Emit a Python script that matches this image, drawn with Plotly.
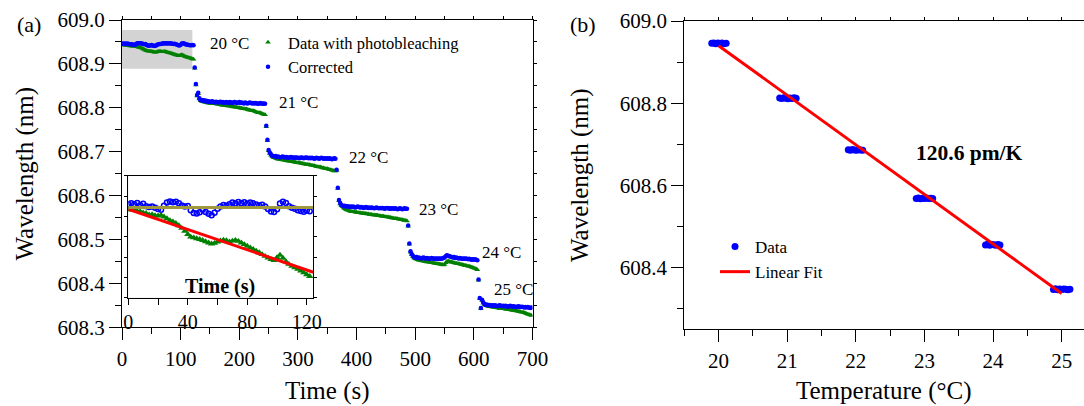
import plotly.graph_objects as go

W, H = 1084, 406
FONT = "Liberation Serif"

# ---------------- Panel (a): wavelength vs time ----------------
# sampling times (s), one sample every 2 s
time_s = list(range(0, 700, 2))

# Values are in pm above 608 nm  (e.g. 945 -> 608.945 nm)
corr_20 = [946.0, 946.4, 945.8, 946.6, 945.5, 946.2, 945.0, 944.6, 944.9, 944.2,
           943.6, 943.3, 945.2, 946.8, 947.3, 946.9, 947.2, 946.5, 945.4, 944.8,
           945.1, 943.0, 941.7, 941.4, 942.0, 943.2, 942.1, 941.3, 940.6, 941.8,
           943.7, 944.8, 945.6, 945.2, 946.0, 946.8, 946.3, 947.1, 946.5, 947.0,
           946.2, 946.8, 946.4, 945.8, 945.3, 945.7, 944.9, 943.6, 942.4, 942.1,
           943.5, 946.3, 947.2, 946.6, 945.0, 944.2, 943.8, 943.0, 942.7, 942.3,
           942.9, 942.5]
corr_j1 = [892, 854, 829, 834, 822, 817]
corr_21 = [818, 816, 817, 815, 816, 814, 815, 813, 814, 815, 813, 812, 814, 813,
           812, 813, 814, 812, 813, 811, 812, 813, 812, 811, 813, 812, 811, 812,
           813, 812, 811, 812, 813, 811, 812, 811, 810, 812, 811, 810, 811, 812,
           811, 810, 811, 810, 811, 810, 809, 810, 811, 810, 809, 810, 809]
corr_j2 = [759, 727, 704, 698, 694]
corr_22 = [691, 690, 689, 690, 688, 689, 688, 687, 688, 689, 688, 687, 688, 687,
           686, 687, 688, 687, 686, 687, 686, 687, 686, 685, 686, 687, 686, 685,
           686, 687, 686, 685, 686, 685, 686, 685, 684, 685, 686, 685, 684, 685,
           686, 685, 684, 685, 684, 685, 684, 685, 684, 683, 684, 685, 684]
corr_j3 = [659, 618, 590, 583, 579]
corr_23 = [577, 576, 577, 575, 576, 575, 574, 575, 574, 575, 574, 573, 574, 575,
           574, 573, 574, 573, 572, 573, 574, 573, 572, 573, 572, 573, 572, 571,
           572, 573, 572, 571, 572, 571, 572, 571, 570, 571, 572, 571, 570, 571,
           570, 571, 570, 571, 570, 569, 570, 571, 570, 569, 570, 571, 570, 570]
corr_j4 = [532, 491, 473, 467, 463]
corr_24 = [460, 459, 460, 458, 459, 458, 457, 458, 459, 458, 457, 458, 457, 456,
           457, 458, 457, 456, 457, 456, 457, 456, 457, 456, 457, 458, 459, 462,
           464, 463, 462, 461, 460, 459, 460, 458, 459, 458, 457, 458, 457, 456,
           457, 456, 457, 456, 455, 456, 455, 454, 455, 454, 455, 454, 453]
corr_j5 = [409, 367, 344, 363, 357]
corr_25 = [353, 351, 352, 350, 351, 350, 349, 350, 349, 350, 349, 348, 349, 350,
           349, 348, 349, 348, 349, 348, 347, 348, 349, 348, 347, 348, 347, 346,
           347, 348, 347, 346, 347, 346, 345, 346, 345, 346, 345, 344, 345]

bleach_20 = [943.5, 943.2, 943.0, 942.6, 942.4, 941.8, 941.5, 940.8, 940.9, 940.4,
             940.3, 940.6, 939.8, 938.9, 938.0, 937.4, 936.6, 935.5, 934.2, 932.8,
             931.2, 929.9, 929.5, 929.1, 928.7, 928.2, 927.6, 927.0, 926.5, 926.8,
             927.4, 928.0, 928.4, 928.1, 927.5, 927.9, 928.3, 927.8, 927.0, 926.2,
             925.4, 924.6, 923.8, 923.0, 922.2, 921.3, 920.4, 919.6, 918.8, 918.3,
             919.8, 921.0, 919.5, 917.8, 916.5, 915.5, 914.8, 914.0, 913.2, 912.3,
             911.4, 910.5]
bleach_j1 = [890, 852, 827, 832, 820, 816]
bleach_21 = [815, 814, 813, 812, 812, 811, 811, 810, 810, 810, 809, 809, 809, 808,
             808, 807, 807, 806, 806, 806, 805, 805, 804, 804, 804, 803, 803, 802,
             802, 801, 801, 800, 800, 799, 799, 798, 798, 797, 797, 796, 795, 795,
             794, 793, 793, 792, 791, 790, 789, 789, 788, 787, 786, 785, 784]
bleach_j2 = [757, 725, 702, 696, 692]
bleach_22 = [689, 687, 686, 685, 684, 683, 683, 682, 682, 681, 681, 680, 680, 679,
             679, 678, 678, 677, 677, 676, 676, 675, 675, 674, 674, 673, 673, 672,
             672, 671, 671, 670, 670, 669, 669, 668, 668, 667, 666, 666, 665, 665,
             664, 663, 663, 662, 661, 661, 660, 659, 659, 658, 657, 656, 656]
bleach_j3 = [657, 616, 588, 581, 577]
bleach_23 = [575, 572, 570, 568, 567, 566, 565, 564, 564, 563, 563, 562, 562, 561,
             561, 561, 560, 560, 559, 559, 559, 558, 558, 557, 557, 557, 556, 556,
             555, 555, 555, 554, 554, 553, 553, 553, 552, 552, 551, 551, 550, 550,
             549, 549, 548, 548, 547, 547, 546, 546, 545, 545, 544, 543, 543, 542]
bleach_j4 = [530, 489, 471, 465, 461]
bleach_24 = [458, 456, 455, 454, 453, 452, 452, 451, 451, 450, 450, 449, 449, 448,
             448, 447, 447, 446, 446, 445, 445, 444, 444, 443, 443, 442, 443, 447,
             450, 451, 450, 449, 448, 448, 447, 446, 446, 445, 445, 444, 443, 443,
             442, 441, 441, 440, 439, 439, 438, 437, 436, 435, 434, 433, 431]
bleach_j5 = [407, 365, 342, 361, 355]
bleach_25 = [352, 350, 349, 348, 347, 347, 346, 346, 345, 345, 345, 344, 344, 343,
             343, 343, 342, 342, 341, 341, 341, 340, 340, 339, 339, 338, 338, 337,
             337, 336, 336, 335, 334, 334, 333, 332, 331, 330, 329, 328, 327]

corrected_pm = (corr_20 + corr_j1 + corr_21 + corr_j2 + corr_22 + corr_j3 +
                corr_23 + corr_j4 + corr_24 + corr_j5 + corr_25)
bleached_pm = (bleach_20 + bleach_j1 + bleach_21 + bleach_j2 + bleach_22 + bleach_j3 +
               bleach_23 + bleach_j4 + bleach_24 + bleach_j5 + bleach_25)
corrected_nm = [608 + v / 1000 for v in corrected_pm]
bleached_nm = [608 + v / 1000 for v in bleached_pm]

# step labels (temperature, time and wavelength where the label sits)
step_labels = ["20 °C", "21 °C", "22 °C", "23 °C", "24 °C", "25 °C"]
step_label_t = [146, 264, 384, 503, 611, 631]
step_label_wl = [608.947, 608.812, 608.686, 608.568, 608.470, 608.386]

# inset: first plateau, with two straight guide lines
inset_n = len(corr_20)
inset_line_t = [0, 124.4]
inset_bleach_fit = [608.9435, 608.9125]
inset_corr_fit = [608.9443, 608.9443]

# ---------------- Panel (b): wavelength vs temperature ----------------
temp_C = [19.90, 19.93, 19.96, 19.99, 20.02, 20.05, 20.08, 20.11,
          20.89, 20.92, 20.95, 20.98, 21.01, 21.04, 21.07, 21.10, 21.13,
          21.89, 21.92, 21.95, 21.98, 22.01, 22.04, 22.07, 22.10,
          22.88, 22.91, 22.94, 22.97, 23.00, 23.03, 23.06, 23.09, 23.12,
          23.89, 23.92, 23.95, 23.98, 24.01, 24.04, 24.07, 24.10,
          24.88, 24.91, 24.94, 24.97, 25.00, 25.03, 25.06, 25.09, 25.12]
temp_wl_pm = [945.8, 946.6, 944.9, 946.2, 945.3, 946.7, 944.8, 945.9,
              812.6, 811.2, 813.4, 812.0, 810.9, 812.8, 811.5, 813.1, 811.9,
              686.8, 685.7, 687.5, 686.2, 685.4, 687.0, 686.1, 685.6,
              568.3, 569.6, 567.8, 569.0, 568.2, 569.4, 567.9, 568.8, 568.1,
              455.2, 456.8, 454.7, 456.0, 455.5, 454.6, 456.3, 455.1,
              347.0, 348.6, 346.5, 347.9, 346.8, 348.2, 347.4, 346.2, 347.6]
temp_wl = [608 + v / 1000 for v in temp_wl_pm]
fit_T = [20, 25]
fit_wl = [608.940, 608.337]
slope_text = "120.6 pm/K"

# ---------------- helpers ----------------
def px_x(p):
    return p / W

def px_y(p):
    return 1 - p / H

BLUE = "#0000ff"
GREEN = "#008000"
RED = "#ff0000"
OLIVE = "#a0983c"
GRAY = "#d3d3d3"

fig = go.Figure()

# main panel (a)
fig.add_trace(go.Scatter(x=time_s, y=bleached_nm, mode="markers", name="Data with photobleaching",
                         marker=dict(symbol="triangle-up", size=5, color=GREEN),
                         xaxis="x", yaxis="y", legend="legend"))
fig.add_trace(go.Scatter(x=time_s, y=corrected_nm, mode="markers", name="Corrected",
                         marker=dict(symbol="circle", size=4.5, color=BLUE),
                         xaxis="x", yaxis="y", legend="legend"))
# inset
fig.add_trace(go.Scatter(x=time_s[:inset_n], y=corrected_nm[:inset_n], mode="markers",
                         marker=dict(symbol="circle-open", size=5, color=BLUE, line=dict(width=1.5)),
                         xaxis="x3", yaxis="y3", showlegend=False))
fig.add_trace(go.Scatter(x=time_s[:inset_n], y=bleached_nm[:inset_n], mode="markers",
                         marker=dict(symbol="triangle-up", size=6.5, color=GREEN),
                         xaxis="x3", yaxis="y3", showlegend=False))
fig.add_trace(go.Scatter(x=inset_line_t, y=inset_bleach_fit, mode="lines",
                         line=dict(color=RED, width=3), xaxis="x3", yaxis="y3", showlegend=False))
fig.add_trace(go.Scatter(x=inset_line_t, y=inset_corr_fit, mode="lines",
                         line=dict(color=OLIVE, width=3), xaxis="x3", yaxis="y3", showlegend=False))
# panel (b)
fig.add_trace(go.Scatter(x=temp_C, y=temp_wl, mode="markers", name="Data",
                         marker=dict(symbol="circle", size=7, color=BLUE),
                         xaxis="x2", yaxis="y2", legend="legend2"))
fig.add_trace(go.Scatter(x=fit_T, y=fit_wl, mode="lines", name="Linear Fit",
                         line=dict(color=RED, width=3),
                         xaxis="x2", yaxis="y2", legend="legend2"))
# dummy traces carrying the mirrored (top / right) axes
fig.add_trace(go.Scatter(x=[None], y=[None], xaxis="x4", yaxis="y4", showlegend=False, hoverinfo="skip"))
fig.add_trace(go.Scatter(x=[None], y=[None], xaxis="x5", yaxis="y2", showlegend=False, hoverinfo="skip"))

axis_common = dict(showline=True, linecolor="black", linewidth=1.2, ticks="outside",
                   tickcolor="black", tickwidth=1.2, showgrid=False, zeroline=False,
                   automargin=False, tickfont=dict(family=FONT, size=21, color="black"))
mirror_common = dict(showline=True, linecolor="black", linewidth=1.2, ticks="outside", ticklen=3,
                     tickwidth=1.2, tickcolor="black", showticklabels=False, showgrid=False,
                     zeroline=False, automargin=False)
minor_common = dict(ticklen=6, tickwidth=1.2, tickcolor="black", ticks="outside", showgrid=False)

main_x_dom = [px_x(122), px_x(532.5)]
main_y_dom = [px_y(327.3), px_y(20)]
right_x_dom = [px_x(684.3), 1.0]
right_y_dom = [px_y(329.3), px_y(21)]
inset_x_dom = [px_x(128.3), px_x(313.3)]
inset_y_dom = [px_y(297.7), px_y(175.7)]

fig.update_layout(
    template="none",
    width=W, height=H, margin=dict(l=0, r=0, t=0, b=0, pad=0, autoexpand=False),
    paper_bgcolor="white", plot_bgcolor="white",
    font=dict(family=FONT, color="black"),
    xaxis=dict(axis_common, domain=main_x_dom, anchor="y", range=[0, 700], tick0=0, dtick=100,
               ticklen=12, minor=dict(minor_common, dtick=50)),
    yaxis=dict(axis_common, domain=main_y_dom, anchor="x", range=[608.3, 609.0], tick0=608.3, dtick=0.1,
               tickformat=".1f", ticklen=12, minor=dict(minor_common, dtick=0.05)),
    xaxis4=dict(mirror_common, overlaying="x", side="top", anchor="y", range=[0, 700], tick0=0, dtick=50),
    yaxis4=dict(mirror_common, overlaying="y", side="right", anchor="x", range=[608.3, 609.0],
                tick0=608.3, dtick=0.05),
    xaxis3=dict(axis_common, domain=inset_x_dom, anchor="y3", range=[0, 124.4], tick0=0, dtick=40,
                ticklen=6, mirror=True, tickfont=dict(family=FONT, size=20, color="black"),
                minor=dict(minor_common, dtick=20)),
    yaxis3=dict(axis_common, domain=inset_y_dom, anchor="x3", range=[608.900, 608.960], tick0=608.9, dtick=0.01,
                ticklen=3, mirror="allticks", showticklabels=False),
    xaxis2=dict(axis_common, domain=right_x_dom, anchor="y2", range=[19.5, 25.325], tick0=20, dtick=1,
                ticklen=12, minor=dict(minor_common, dtick=0.5)),
    yaxis2=dict(axis_common, domain=right_y_dom, anchor="x2", range=[608.25, 609.0], tick0=608.4, dtick=0.2,
                tickformat=".1f", ticklen=12, minor=dict(minor_common, dtick=0.1)),
    xaxis5=dict(mirror_common, overlaying="x2", side="top", anchor="y2", range=[19.5, 25.325],
                tick0=19.5, dtick=0.5),
    legend=dict(x=px_x(248), y=px_y(25), xanchor="left", yanchor="top", bgcolor="rgba(0,0,0,0)",
                font=dict(family=FONT, size=16.5, color="black"), tracegroupgap=0),
    legend2=dict(x=px_x(715), y=px_y(229), xanchor="left", yanchor="top", bgcolor="rgba(0,0,0,0)",
                 font=dict(family=FONT, size=17, color="black"), tracegroupgap=0),
    showlegend=True,
)

shapes = [
    dict(type="rect", xref="x", yref="y", x0=0, x1=120, y0=608.889, y1=608.977,
         fillcolor=GRAY, line=dict(width=0), layer="below"),
    dict(type="rect", xref="x3 domain", yref="y3 domain", x0=0, x1=1, y0=0, y1=1,
         fillcolor=GRAY, line=dict(width=0), layer="below"),
]
fig.update_layout(shapes=shapes)

ann = []
for lab, t, wl in zip(step_labels, step_label_t, step_label_wl):
    ann.append(dict(text=lab, x=t, y=wl, xref="x", yref="y", xanchor="left", yanchor="middle",
                    showarrow=False, font=dict(family=FONT, size=17, color="black")))


def centered(text, cx, cy, size, angle=0):
    return dict(text=text, x=px_x(cx), y=px_y(cy), xref="paper", yref="paper",
                xanchor="center", yanchor="middle", textangle=angle, showarrow=False,
                font=dict(family=FONT, size=size, color="black"))


ann += [
    centered("(a)", 29, 25, 22),
    centered("(b)", 582.5, 25, 22),
    centered("Wavelength (nm)", 24, 173.5, 25, -90),
    centered("Time (s)", 327, 391, 25),
    centered("Wavelength (nm)", 580, 175, 25, -90),
    centered("Temperature (°C)", 884, 391, 25),
    centered("<b>Time (s)</b>", 220, 286.5, 20),
    centered("<b>" + slope_text + "</b>", 969, 153, 21.5),
]
fig.update_layout(annotations=ann)

fig.write_html("out.html")
